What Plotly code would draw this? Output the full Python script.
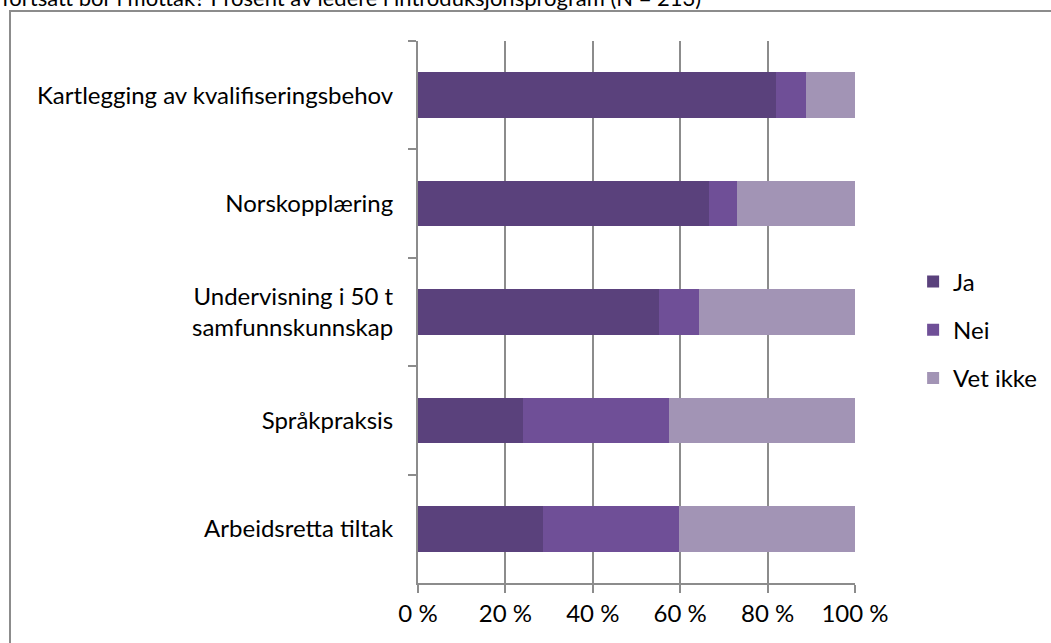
# stacked horizontal bar chart: share of leaders answering ja / nei / vet ikke

import plotly.graph_objects as go

categories = ["Kartlegging av kvalifiseringsbehov", "Norskopplæring", "Undervisning i 50 t<br>samfunnskunnskap", "Språkpraksis", "Arbeidsretta tiltak"]
ja = [82.0, 66.5, 55.2, 24.1, 28.7]
nei = [6.7, 6.6, 9.0, 33.4, 31.1]
vetIkke = [11.3, 26.9, 35.8, 42.5, 40.2]
xTicks = [0, 20, 40, 60, 80, 100]
xTickText = ["0 %", "20 %", "40 %", "60 %", "80 %", "100 %"]

series = [("Ja", ja, "#5a417c"), ("Nei", nei, "#6f4f97"), ("Vet ikke", vetIkke, "#a294b5")]
fontFamily = "Lato, Noto Sans, sans-serif"

fig = go.Figure()
for name, values, color in series:
    fig.add_trace(go.Bar(y = categories, x = values, name = name, orientation = "h", legendgroup = name, marker = dict(color = color, line = dict(width = 0))))

fig.update_layout(
    width = 1051, height = 643,
    margin = dict(l = 418, r = 196, t = 41, b = 60, autoexpand = False),
    barmode = "stack", bargap = 0.58,
    plot_bgcolor = "white", paper_bgcolor = "white",
    font = dict(family = fontFamily, size = 24, color = "black"),
    showlegend = True,
    legend = dict(x = 1.133, y = 0.467, xanchor = "left", yanchor = "middle", traceorder = "grouped", tracegroupgap = 14, font = dict(size = 24), itemwidth = 30),
)
fig.update_xaxes(range = [0, 100], tickvals = xTicks, ticktext = xTickText, showgrid = True, gridcolor = "#8c8c8c", gridwidth = 2, showline = True, linecolor = "#8c8c8c", linewidth = 2, ticks = "outside", ticklen = 8, tickcolor = "#8c8c8c", tickwidth = 2, zeroline = False)
fig.update_yaxes(categoryorder = "array", categoryarray = categories, autorange = "reversed", showline = True, linecolor = "#8c8c8c", linewidth = 2, ticks = "outside", tickson = "boundaries", ticklen = 8, tickcolor = "#8c8c8c", tickwidth = 2, showgrid = False, ticklabelstandoff = 18)

# outer chart border (cut by the page edges)
fig.add_shape(type = "rect", xref = "paper", yref = "paper", x0 = (10 - 418) / 437, x1 = (1060 - 418) / 437, y0 = -0.2, y1 = (583 - 11) / 542, line = dict(color = "#8c8c8c", width = 2))
# title text, clipped at the top of the picture
fig.add_annotation(text = "fortsatt bor i mottak? Prosent av ledere i introduksjonsprogram (N = 213)", xref = "paper", yref = "paper", x = -418 / 437, y = (583 - 13) / 542, xanchor = "left", yanchor = "bottom", showarrow = False, font = dict(size = 22))

fig.write_html("out.html", config = {"displayModeBar": False}, post_script = "document.body.style.margin = '0'; document.body.style.overflow = 'hidden';")
